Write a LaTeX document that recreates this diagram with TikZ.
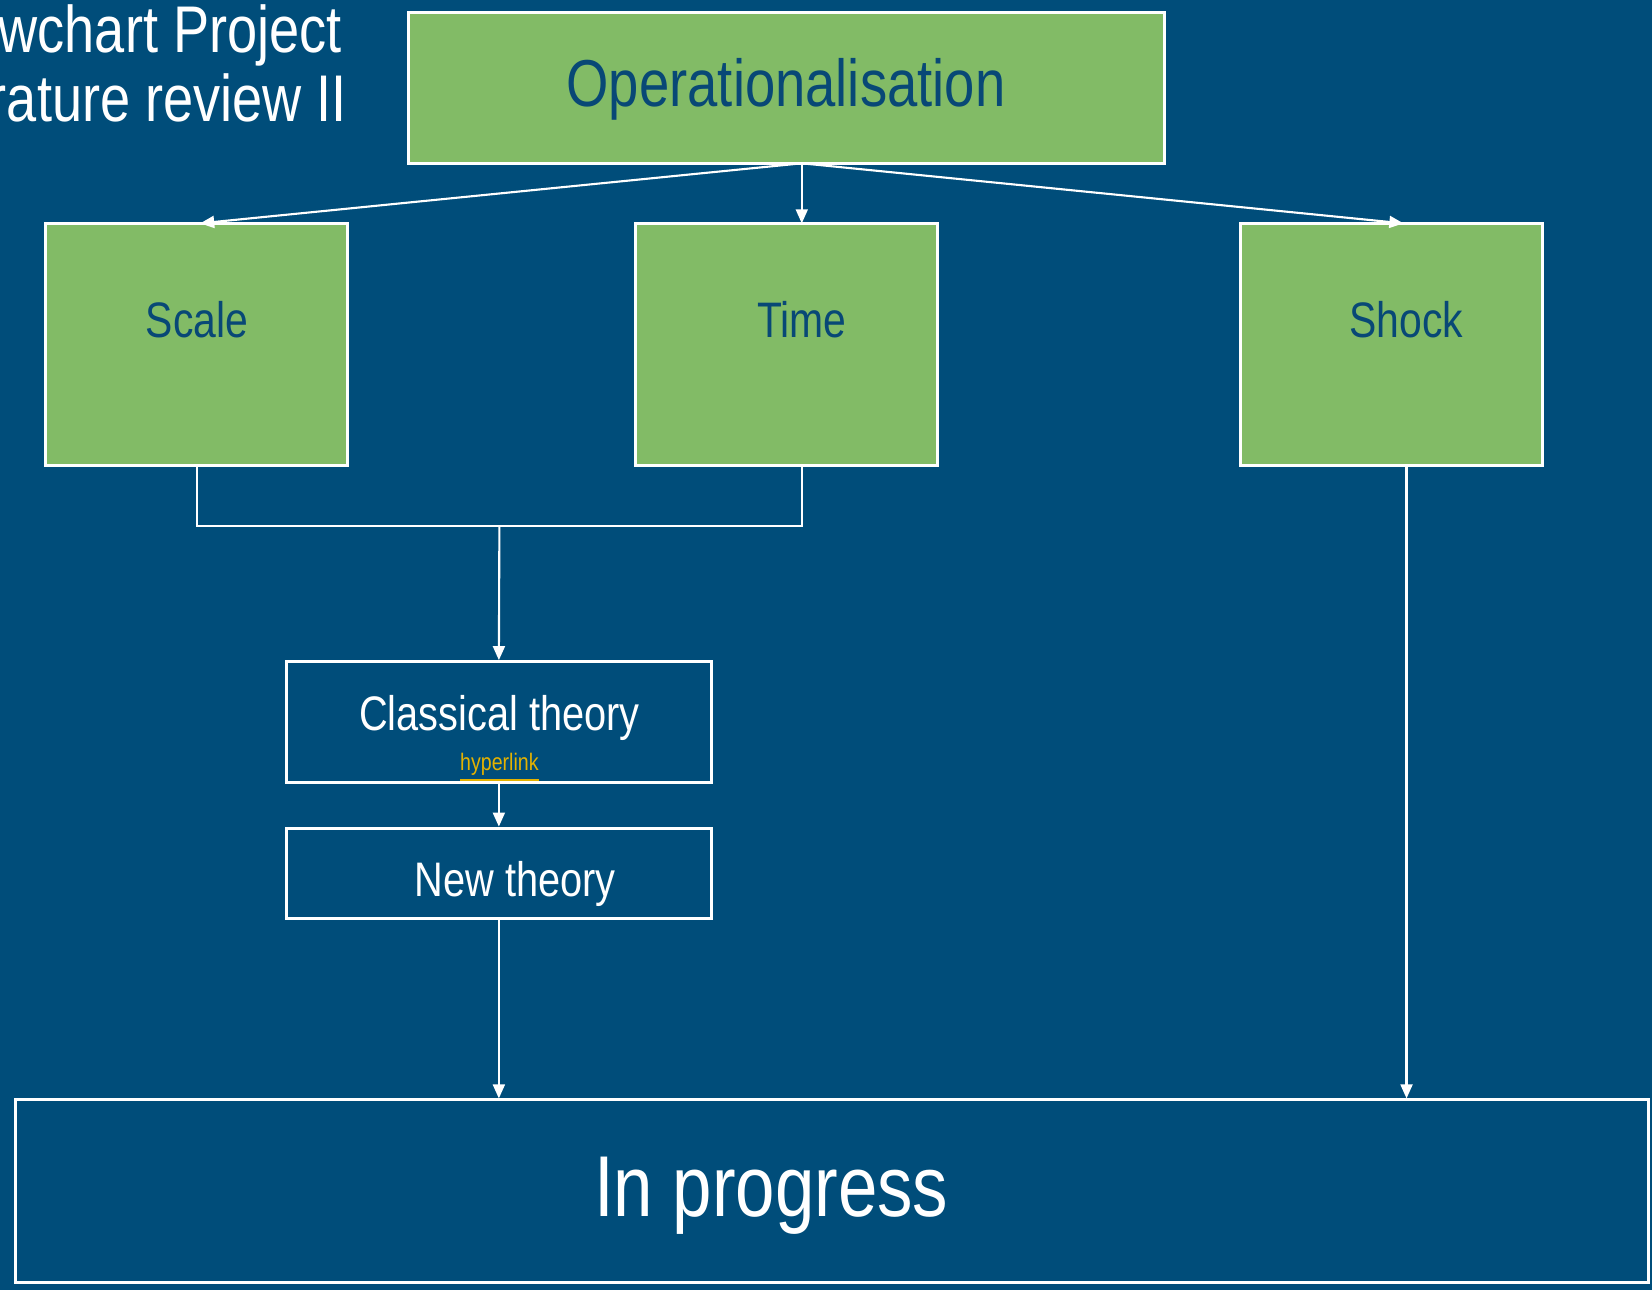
\documentclass[tikz,border=0pt]{standalone}
\usepackage{fontspec}
\setmainfont{Liberation Sans}[FakeStretch=0.82]
\usetikzlibrary{arrows.meta,fit}
\definecolor{bg}{RGB}{0,77,122}
\definecolor{gr}{RGB}{130,187,102}
\definecolor{gtxt}{RGB}{8,72,118}
\definecolor{linkc}{RGB}{228,178,0}
\begin{document}
\begin{tikzpicture}[x=0.01054cm,y=-0.01054cm,
  gbox/.style={draw=white, line width=0.85pt, fill=gr, inner sep=0pt},
  dbox/.style={draw=white, line width=0.85pt, inner sep=0pt},
  conn/.style={draw=white, line width=0.6pt},
  arr/.style={conn, -{Triangle[length=4pt,width=3.4pt]}},
  gtext/.style={text=gtxt, inner sep=0pt},
  wtext/.style={text=white, inner sep=0pt}]
\fill[bg] (0,0) rectangle (1568,1224);
\useasboundingbox (0,0) rectangle (1568,1224);
% title
\node[wtext, anchor=base east, font=\fontsize{18.8}{22}\selectfont] (t1) at (325,50) {Flowchart Project};
\node[wtext, anchor=base east, font=\fontsize{18.8}{22}\selectfont] (t2) at (330,115) {Literature review II};
% boxes
\node[gbox, fit={(388,12) (1105,155)}] (op) {};
\node[gtext, font=\fontsize{18.9}{22}\selectfont] (opt) at (746,85) {Operationalisation};
\node[gbox, fit={(43,212) (330,442)}] (sc) {};
\node[gbox, fit={(603,212) (890,442)}] (ti) {};
\node[gbox, fit={(1177,212) (1464,442)}] (sh) {};
\node[gtext, anchor=base, font=\fontsize{14.2}{17}\selectfont] (sct) at (187,320) {Scale};
\node[gtext, anchor=base, font=\fontsize{14.2}{17}\selectfont] (tit) at (761,320) {Time};
\node[gtext, anchor=base, font=\fontsize{14.2}{17}\selectfont] (sht) at (1335,320) {Shock};
\node[dbox, fit={(272,628) (675,743)}] (cl) {};
\node[wtext, anchor=base, font=\fontsize{13.8}{17}\selectfont] (clt) at (474,693) {Classical theory};
\node[text=linkc, inner sep=0pt, anchor=base, font=\fontsize{6.8}{8}\selectfont] (hl) at (474,731) {\underline{hyperlink}};
\node[dbox, fit={(272,786) (675,872)}] (nt) {};
\node[wtext, anchor=base, font=\fontsize{13.8}{17}\selectfont] (ntt) at (489,851) {New theory};
\node[dbox, fit={(15,1044) (1565,1217)}] (ip) {};
\node[wtext, anchor=base, font=\fontsize{24.6}{28}\selectfont] (ipt) at (732,1155) {In progress};
% connector points
\coordinate (o) at (761,155);
\coordinate (scT) at (190,212);
\coordinate (tiT) at (761,212);
\coordinate (shT) at (1332,212);
\coordinate (scB) at (187,442);
\coordinate (tiB) at (761,442);
\coordinate (shB) at (1335,442);
\coordinate (j) at (474,499);
% connectors
\draw[arr] (o) -- (scT);
\draw[arr] (o) -- (tiT);
\draw[arr] (o) -- (shT);
\draw[conn] (scB) |- (j) -| (tiB);
\draw[arr] (j) -- (cl.north);
\draw[arr] (cl.south) -- (nt.north);
\draw[arr] (nt.south) -- (nt.south |- ip.north);
\draw[arr] (shB) -- (shB |- ip.north);
\end{tikzpicture}
\end{document}
